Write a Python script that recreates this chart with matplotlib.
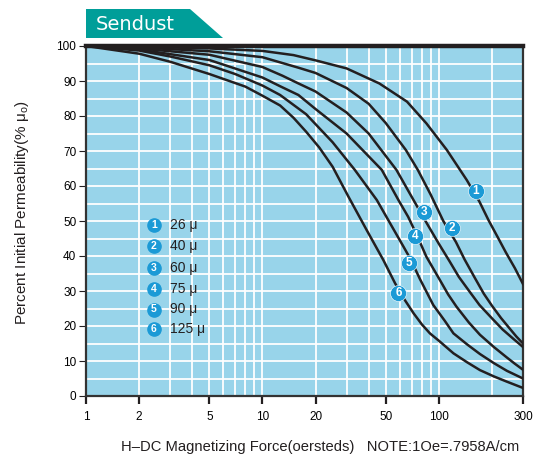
import matplotlib.pyplot as plt
from matplotlib.patches import Polygon

plt.rcParams["font.family"] = ["Liberation Sans", "DejaVu Sans"]

# tick values
x_ticks = [1, 2, 5, 10, 20, 50, 100, 300]
y_ticks = [0, 10, 20, 30, 40, 50, 60, 70, 80, 90, 100]
grid_h = [2, 3, 4, 5, 6, 7, 8, 9, 10, 20, 30, 40, 50, 60, 70, 80, 90, 100, 200]
grid_p = list(range(5, 100, 5))

grade_names = ["26 μ", "40 μ", "60 μ", "75 μ", "90 μ", "125 μ"]

# curves: H (oersteds) vs percent initial permeability
h1 = [1, 2, 5, 10, 15, 20, 30, 46, 66, 85, 111, 144, 170, 191, 215, 240, 270, 300]
p1 = [100, 99.8, 99.3, 98.6, 97.4, 95.9, 93.6, 89.3, 84.1, 77.9, 70.3, 61.7, 55.5, 50.3, 45.5, 41, 36.5, 32]

h2 = [1, 2, 5, 10, 16, 20, 30, 40, 50, 65, 76, 90, 106, 125, 140, 161, 180, 200, 225, 250, 275, 300]
p2 = [100, 99.6, 98.5, 96.8, 93.8, 92.3, 88, 83.5, 78, 70.3, 64.6, 57.5, 50, 44, 39, 33.5, 29.2, 25.8, 22.3, 19.5, 17, 15]

h3 = [1, 2, 5, 10, 13, 16, 20, 30, 40, 57.5, 70, 84, 100, 115, 130, 150, 170, 200, 230, 265, 300]
p3 = [100, 99.3, 97.5, 94, 91.5, 89.3, 87, 81, 75, 64.6, 57, 50, 43.5, 38.5, 34, 29.7, 26, 22.2, 19, 16.3, 14]

h4 = [1, 2, 5, 10, 12.6, 16, 20, 30, 47.5, 59, 67, 75, 85, 101.5, 113, 126, 148, 171, 205, 243, 270, 300]
p4 = [100, 99, 96, 91, 88.5, 86, 82, 75, 64.6, 56, 51.2, 46, 39.8, 33.1, 29, 25.5, 21, 17.5, 14, 11, 9.2, 7.5]

h5 = [1, 2, 3, 5, 7, 10, 12.6, 17.7, 25, 33.4, 44.5, 53, 63, 69.3, 78, 93, 108, 121, 145, 171, 205, 243, 300]
p5 = [100, 98.7, 97, 94.5, 92, 88.7, 86, 80.5, 72.5, 64.6, 56, 49.3, 42.7, 39, 33.5, 26, 21.5, 17.9, 14.7, 12, 9.4, 7.2, 5]

h6 = [1, 2, 3, 5, 8, 10, 12.6, 15, 17.7, 21, 25, 30.7, 39, 48.4, 56.5, 64, 72, 80, 89, 100, 121, 145, 171, 205, 243, 300]
p6 = [100, 97.8, 95.5, 92, 88.4, 85.8, 83, 79.5, 75.5, 71, 65.5, 57, 47.4, 38.9, 32.2, 27.5, 23.6, 20.5, 17.9, 15.8, 12.2, 9.6, 7.4, 5.6, 4.1, 2.3]

# numbered badges sitting on the curves
badge_h = [162, 118, 82, 73, 68, 59]
badge_p = [58.6, 48, 52.6, 45.7, 38, 29.4]

bg = "#98d4ea"
badge_blue = "#1b9ad6"
ink = "#231f20"

fig = plt.figure(figsize=(5.43, 4.54), dpi=100)
ax = fig.add_axes([86 / 543, 1 - 396 / 454, 437 / 543, 350 / 454])
ax.set_facecolor(bg)
ax.set_xscale("log")
ax.set_xlim(1, 300)
ax.set_ylim(0, 100)

for g in grid_h:
    ax.axvline(g, color="white", lw=1.3, zorder=1)
for g in grid_p:
    ax.axhline(g, color="white", lw=1.3, zorder=1)

for h, p in [(h1, p1), (h2, p2), (h3, p3), (h4, p4), (h5, p5), (h6, p6)]:
    ax.plot(h, p, color=ink, lw=1.8, zorder=3, solid_joinstyle="round")

for i in range(6):
    ax.plot(badge_h[i], badge_p[i], "o", ms=11.5, color=badge_blue, mec="white", mew=0.4, zorder=4)
    ax.text(badge_h[i], badge_p[i], str(i + 1), color="white", fontsize=8.5, fontweight="bold",
            ha="center", va="center", zorder=5)

# legend
leg_y = [225, 245.7, 268, 289, 309.5, 329]
for i, name in enumerate(grade_names):
    yy = (396 - leg_y[i]) / 350
    ax.plot(0.1556, yy, "o", ms=9.5, color=badge_blue, transform=ax.transAxes, zorder=4)
    ax.text(0.1556, yy, str(i + 1), color="white", fontsize=7.5, fontweight="bold",
            ha="center", va="center", transform=ax.transAxes, zorder=5)
    ax.text(0.193, yy, name, color=ink, fontsize=10, ha="left", va="center",
            transform=ax.transAxes, zorder=5)

ax.set_xticks(x_ticks)
ax.set_xticklabels([str(v) for v in x_ticks])
ax.xaxis.set_minor_locator(plt.NullLocator())
ax.set_yticks(y_ticks)
ax.tick_params(axis="x", direction="out", length=6, width=1.6, color=ink, labelsize=8.5, pad=5)
ax.tick_params(axis="y", direction="out", length=5, width=0.8, color=ink, labelsize=8.5, pad=2)

for side in ["left", "bottom", "right"]:
    ax.spines[side].set_color("#333333")
    ax.spines[side].set_linewidth(1.6)
ax.spines["top"].set_color(ink)
ax.spines["top"].set_linewidth(3.2)

# title banner
banner = Polygon([(86 / 543, 1 - 9 / 454), (190 / 543, 1 - 9 / 454),
                  (223 / 543, 1 - 38 / 454), (86 / 543, 1 - 38 / 454)],
                 closed=True, facecolor="#009e99", edgecolor="none", transform=fig.transFigure)
fig.patches.append(banner)
fig.text(96 / 543, 1 - 24 / 454, "Sendust", color="white", fontsize=14,
         family="DejaVu Sans", ha="left", va="center")

fig.text(22 / 543, 1 - 213 / 454, "Percent Initial Permeability(% μ$_\\mathregular{o}$)",
         rotation=90, ha="center", va="center", fontsize=11, color=ink)
fig.text(320 / 543, 1 - 447 / 454, "H\u2013DC Magnetizing Force(oersteds)   NOTE:1Oe=.7958A/cm",
         ha="center", va="center", fontsize=10.6, color=ink)

fig.savefig("out.png", dpi=100)
